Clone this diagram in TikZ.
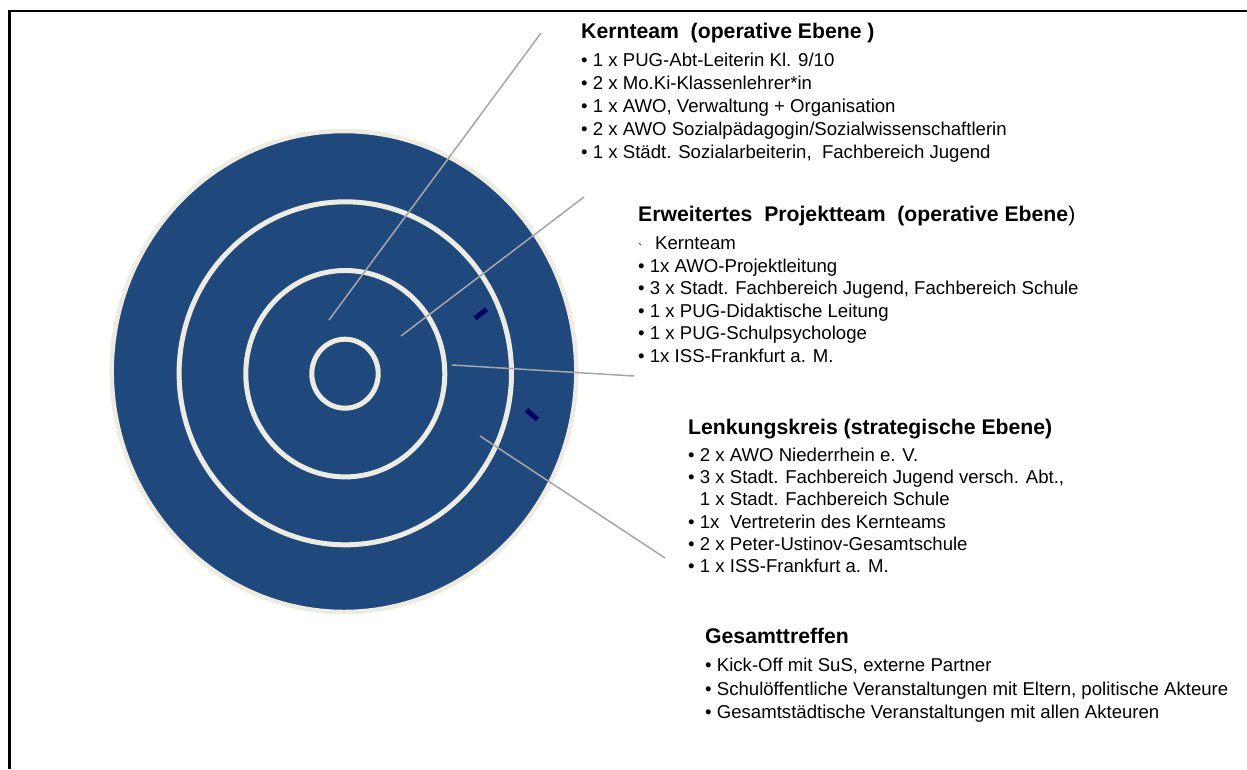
\documentclass[tikz,border=0pt]{standalone}
\usepackage{fontspec}
\setmainfont{Liberation Sans}
\definecolor{ringblue}{HTML}{1F497D}
\definecolor{ringcream}{HTML}{EEECE1}
\definecolor{leadgray}{HTML}{A6A6A6}
\definecolor{marknavy}{HTML}{000066}
\newcommand{\bul}{•\ }
\begin{document}
\begin{tikzpicture}[x=1pt,y=-1pt,
  ttl/.style={font=\fontsize{21.2}{25}\selectfont\bfseries, anchor=base west, inner sep=0pt},
  itm/.style={font=\fontsize{18.6}{22}\selectfont, anchor=base west, inner sep=0pt},
  ring/.style={draw=ringcream, line width=5pt},
  lead/.style={draw=leadgray, line width=1.5pt},
  tick/.style={draw=marknavy, line width=5pt}]
\useasboundingbox (0,0) rectangle (1247,769);
% frame
\draw[line width=2.2pt, black] (9.5,769) -- (9.5,11) -- (1247,11);
% target
\fill[ringblue, draw=ringcream, line width=4.5pt] (344,371.5) ellipse [x radius=232.3pt, y radius=240.5pt];
\draw[ring] (345.3,373.3) ellipse [x radius=166.2pt, y radius=171.5pt];
\draw[ring] (345.3,373.7) ellipse [x radius=99.5pt, y radius=103.2pt];
\draw[ring] (345,373.7) ellipse [x radius=33.2pt, y radius=34.5pt];
% marks
\draw[tick] (475,318.3) -- (486.7,309.3);
\draw[tick] (526.5,409.8) -- (537.5,419.5);
% leader coordinates
\coordinate (kin) at (329,320);
\coordinate (kout) at (541,33);
\coordinate (ein) at (401,336);
\coordinate (eout) at (584,197);
\coordinate (lin) at (452,365);
\coordinate (lout) at (634,376);
\coordinate (gin) at (480,436);
\coordinate (gout) at (665,558);
\draw[lead] (kin) -- (kout);
\draw[lead] (ein) -- (eout);
\draw[lead] (lin) -- (lout);
\draw[lead] (gin) -- (gout);
% Kernteam
\node[ttl] (k0) at (581,38.5) {Kernteam\ \ (operative Ebene\ )};
\node[itm] (k1) at (581,66.5) {\bul 1 x PUG-Abt-Leiterin Kl. 9/10};
\node[itm] (k2) at (581,89.5) {\bul 2 x Mo.Ki-Klassenlehrer*in};
\node[itm] (k3) at (581,112.5) {\bul 1 x AWO, Verwaltung + Organisation};
\node[itm] (k4) at (581,135.5) {\bul 2 x AWO Sozialpädagogin/Sozialwissenschaftlerin};
\node[itm] (k5) at (581,158.5) {\bul 1 x Städt. Sozialarbeiterin,\ \ Fachbereich Jugend};
% Erweitertes Projektteam
\node[ttl] (e0) at (638,221.5) {Erweitertes\ \ Projektteam\ \ (operative Ebene\mdseries)};
\node[itm] (e1) at (638,249.5) {\makebox[17pt][l]{\raisebox{-4pt}{\fontsize{13}{13}\selectfont\textasciigrave}}Kernteam};
\node[itm] (e2) at (638,272) {\bul 1x AWO-Projektleitung};
\node[itm] (e3) at (638,294.5) {\bul 3 x Stadt. Fachbereich Jugend, Fachbereich Schule};
\node[itm] (e4) at (638,317) {\bul 1 x PUG-Didaktische Leitung};
\node[itm] (e5) at (638,339.5) {\bul 1 x PUG-Schulpsychologe};
\node[itm] (e6) at (638,362) {\bul 1x ISS-Frankfurt a. M.};
% Lenkungskreis
\node[ttl] (l0) at (688,434.5) {Lenkungskreis (strategische Ebene)};
\node[itm] (l1) at (688,461.5) {\bul 2 x AWO Niederrhein e. V.};
\node[itm] (l2) at (688,483.7) {\bul 3 x Stadt. Fachbereich Jugend versch. Abt.,};
\node[itm] (l3) at (688,505.9) {\phantom{\bul}1 x Stadt. Fachbereich Schule};
\node[itm] (l4) at (688,528.1) {\bul 1x\ \ Vertreterin des Kernteams};
\node[itm] (l5) at (688,550.3) {\bul 2 x Peter-Ustinov-Gesamtschule};
\node[itm] (l6) at (688,572.5) {\bul 1 x ISS-Frankfurt a. M.};
% Gesamttreffen
\node[ttl] (g0) at (705,643.5) {Gesamttreffen};
\node[itm] (g1) at (705,671.5) {\bul Kick-Off mit SuS, externe Partner};
\node[itm] (g2) at (705,695) {\bul Schulöffentliche Veranstaltungen mit Eltern, politische Akteure};
\node[itm] (g3) at (705,718) {\bul Gesamtstädtische Veranstaltungen mit allen Akteuren};
\end{tikzpicture}
\end{document}
